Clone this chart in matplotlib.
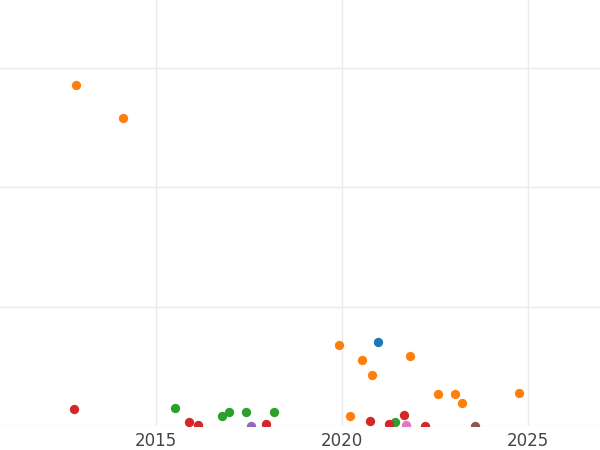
import matplotlib
matplotlib.use("Agg")
import matplotlib.pyplot as plt

# values (x = year, y = value)
orange_x = [2012.84, 2014.11, 2019.91, 2020.53, 2020.80, 2021.82, 2020.21, 2022.57, 2023.03, 2023.22, 2024.75]
orange_y = [2.85, 2.58, 0.68, 0.55, 0.43, 0.59, 0.08, 0.27, 0.27, 0.19, 0.28]
red_x = [2012.79, 2015.88, 2016.12, 2017.95, 2020.75, 2021.26, 2021.66, 2022.22]
red_y = [0.14, 0.03, 0.01, 0.02, 0.04, 0.02, 0.09, 0.0]
green_x = [2015.50, 2016.77, 2016.96, 2017.41, 2018.17, 2021.42]
green_y = [0.15, 0.08, 0.12, 0.12, 0.12, 0.03]
blue_x, blue_y = [2020.96], [0.70]
purple_x, purple_y = [2017.55], [0.0]
pink_x, pink_y = [2021.71], [0.01]
brown_x, brown_y = [2023.57], [0.0]

series = [
    (blue_x, blue_y, "#1f77b4"),
    (orange_x, orange_y, "#ff7f0e"),
    (green_x, green_y, "#2ca02c"),
    (red_x, red_y, "#d62728"),
    (purple_x, purple_y, "#9467bd"),
    (brown_x, brown_y, "#8c564b"),
    (pink_x, pink_y, "#e377c2"),
]

fig = plt.figure(figsize=(6, 4.5), dpi=100)
ax = fig.add_axes([0, 0.0533, 1, 0.9467])

for xs, ys, c in series:
    ax.scatter(xs, ys, s=45, color=c, zorder=3, linewidths=0)

ax.set_xlim(2010.8, 2026.93)
ax.set_ylim(0, 3.565)
ax.set_xticks([2015, 2020, 2025])
ax.set_yticks([0, 1, 2, 3])
ax.set_yticklabels([])
ax.tick_params(axis="both", length=0, labelsize=12, labelcolor="#444444", pad=4)
ax.grid(True, color="#ebebeb", linewidth=1)
for s in ax.spines.values():
    s.set_visible(False)

fig.savefig("out.png")
